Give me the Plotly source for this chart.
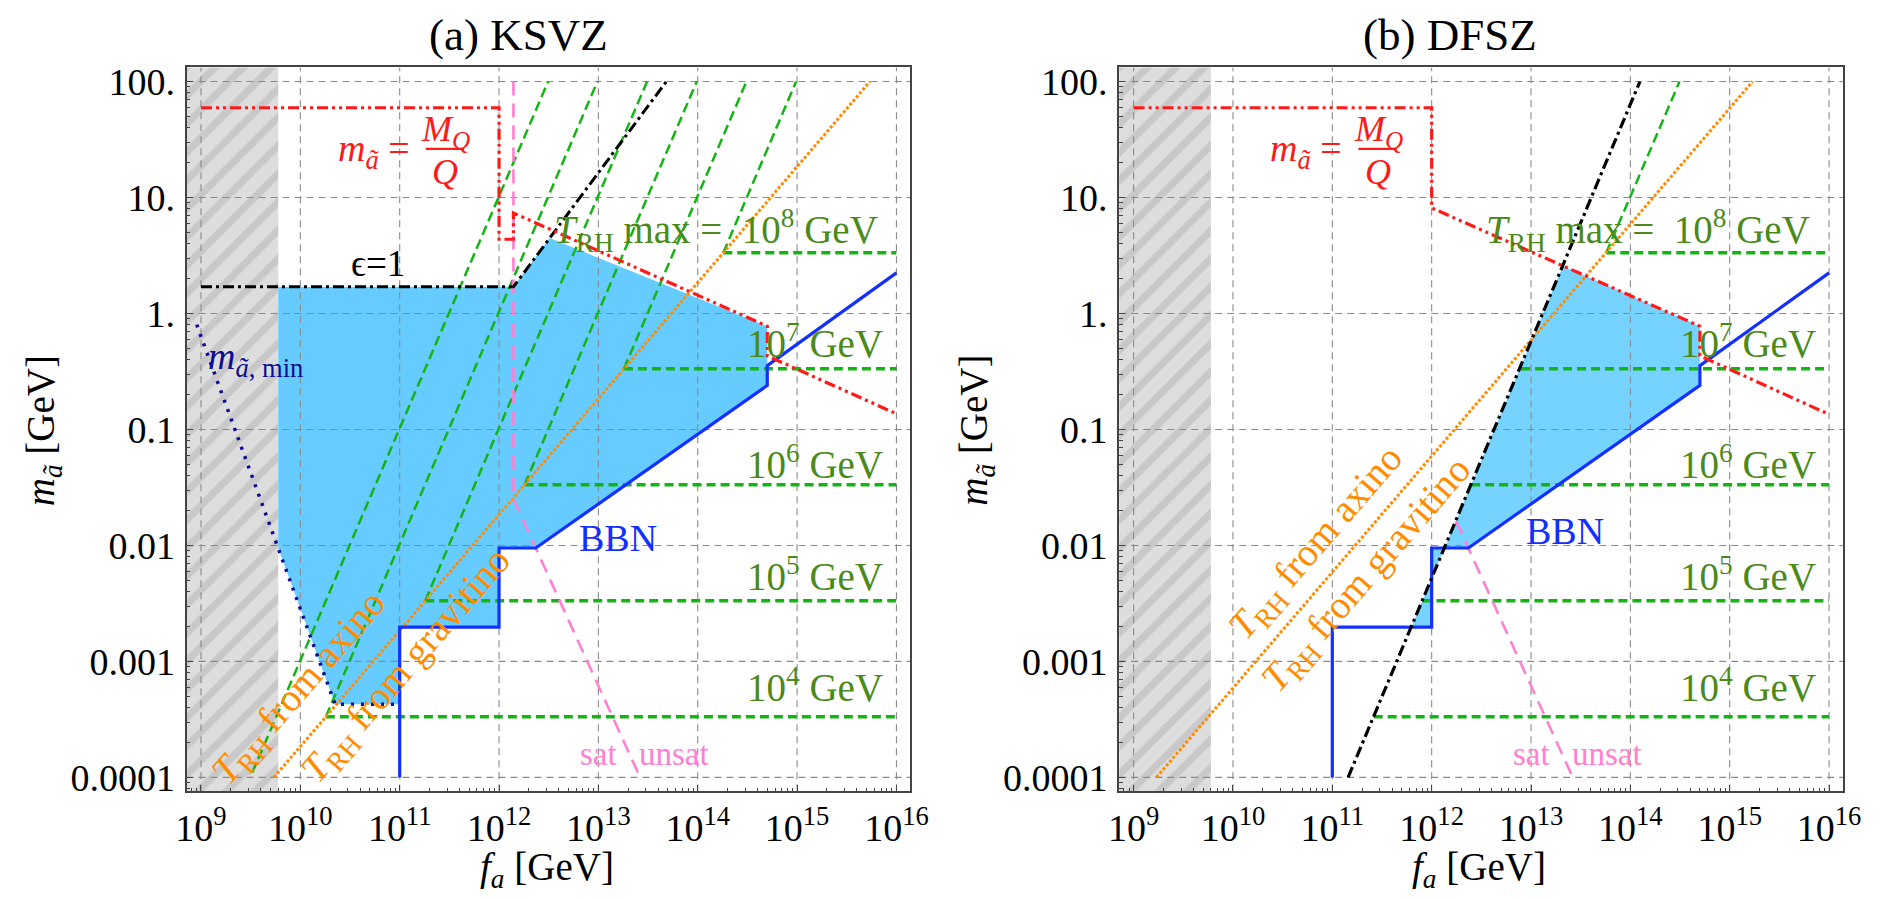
import plotly.graph_objects as go

W, H = 1898, 899
SERIF = "Liberation Serif, Times New Roman, serif"

# ---------------- panel geometry (pixels) ----------------
PANEL_LEFT = [178.3, 1125.4]
PANEL_W = 735.0
PANEL_TOP = 62.3
PANEL_H = 734.4
X_RANGE = [8.855, 16.14]      # log10 f_a
Y_RANGE = [-4.119, 2.122]     # log10 m

X_TICK_EXP = [9, 10, 11, 12, 13, 14, 15, 16]
Y_TICK_EXP = [-4, -3, -2, -1, 0, 1, 2]
Y_TICK_TEXT = ["0.0001", "0.001", "0.01", "0.1", "1.", "10.", "100."]

# ---------------- data (log10 f_a [GeV], log10 m [GeV]) ----------------
EXCLUDED_FA_MAX = 9.778                     # hatched region f_a < 6e9 GeV

# (a) KSVZ
KSVZ_REGION_FA = [9.778, 12.145, 12.51, 14.70, 14.70, 12.37, 12.0, 12.0, 11.0, 11.0, 10.35, 9.778]
KSVZ_REGION_M = [0.230, 0.230, 0.650, -0.110, -0.620, -2.022, -2.022, -2.705, -2.705, -3.370, -3.370, -2.025]

KSVZ_MQ_FA = [9.0, 12.0, 12.0, 12.145, 12.145, 14.70, 14.70, 16.0]
KSVZ_MQ_M = [1.774, 1.774, 0.640, 0.640, 0.867, -0.110, -0.365, -0.865]

KSVZ_EPS_FA = [9.0, 12.145, 13.684]
KSVZ_EPS_M = [0.230, 0.230, 2.0]

KSVZ_MMIN_FA = [8.957, 10.35, 11.0]
KSVZ_MMIN_M = [-0.096, -3.370, -3.370]

KSVZ_SAT_FA = [12.145, 12.145, 13.42]
KSVZ_SAT_M = [2.0, -1.60, -4.0]

KSVZ_TRH_ORANGE_FA = [9.734, 15.734]
KSVZ_TRH_ORANGE_M = [-4.0, 2.0]

# T_RH max contours: slope-2 branch (start -> top) and flat branch
KSVZ_TRH_DIAG_START_FA = [9.516, 10.257, 11.257, 12.257, 13.257, 14.257]
KSVZ_TRH_DIAG_START_M = [-3.960, -3.477, -2.477, -1.477, -0.477, 0.523]
KSVZ_TRH_DIAG_END_FA = [12.494, 12.990, 13.490, 13.990, 14.490, 14.990]
KSVZ_TRH_FLAT_START_FA = [10.257, 11.257, 12.257, 13.257, 14.257]
TRH_FLAT_M = [-3.477, -2.477, -1.477, -0.477, 0.523]
TRH_FLAT_END_FA = 16.0

# (b) DFSZ
DFSZ_REGION_FA = [11.795, 12.0, 12.0, 12.37, 14.70, 14.70, 13.321]
DFSZ_REGION_M = [-2.705, -2.705, -2.022, -2.022, -0.620, -0.110, 0.410]

DFSZ_MQ_FA = [9.0, 12.0, 12.0, 14.70, 14.70, 16.0]
DFSZ_MQ_M = [1.774, 1.774, 0.910, -0.110, -0.365, -0.870]

DFSZ_BLACK_FA = [11.159, 14.096]
DFSZ_BLACK_M = [-4.0, 2.0]

DFSZ_SAT_FA = [12.245, 13.42]
DFSZ_SAT_M = [-1.790, -4.0]

DFSZ_TRH_ORANGE_FA = [9.230, 15.230]
DFSZ_TRH_ORANGE_M = [-4.0, 2.0]

DFSZ_TRH_DIAG_START_FA = [13.757]
DFSZ_TRH_DIAG_START_M = [0.523]
DFSZ_TRH_DIAG_END_FA = [14.495]
DFSZ_TRH_FLAT_START_FA = [11.416, 11.907, 12.397, 12.900, 13.757]

# BBN bound (both models)
BBN_FA = [11.0, 11.0, 12.0, 12.0, 12.37, 14.70, 14.70, 16.0]
BBN_M = [-4.0, -2.705, -2.705, -2.022, -2.022, -0.620, -0.450, 0.350]

# ---------------- colours ----------------
C_RED = "#ff1a1a"
C_GREEN_LINE = "#14b414"
C_GREEN_TEXT = "#4b8a1a"
C_ORANGE = "#ff8c00"
C_PINK = "#ff7fd0"
C_BLUE = "#1430ff"
C_NAVY = "#0c0c96"
C_FILL = ["#66ccff", "#76d3ff"]
C_GRID = "#8a8a8a"


def p(vals):
    return [10 ** v for v in vals]


def segs(x0s, y0s, x1s, y1s):
    xs, ys = [], []
    for a, b, c, d in zip(x0s, y0s, x1s, y1s):
        xs += [10 ** a, 10 ** c, None]
        ys += [10 ** b, 10 ** d, None]
    return xs, ys


fig = go.Figure()


def add(i, x, y, **kw):
    xa = "x" if i == 0 else "x2"
    ya = "y" if i == 0 else "y2"
    fig.add_trace(go.Scatter(x=x, y=y, xaxis=xa, yaxis=ya, showlegend=False,
                             hoverinfo="skip", **kw))


def line(i, x, y, color, width, dash="solid"):
    add(i, x, y, mode="lines", line=dict(color=color, width=width, dash=dash))


panels = [
    dict(region=(KSVZ_REGION_FA, KSVZ_REGION_M), mq=(KSVZ_MQ_FA, KSVZ_MQ_M),
         orange=(KSVZ_TRH_ORANGE_FA, KSVZ_TRH_ORANGE_M),
         diag=(KSVZ_TRH_DIAG_START_FA, KSVZ_TRH_DIAG_START_M, KSVZ_TRH_DIAG_END_FA),
         flat=KSVZ_TRH_FLAT_START_FA, sat=(KSVZ_SAT_FA, KSVZ_SAT_M)),
    dict(region=(DFSZ_REGION_FA, DFSZ_REGION_M), mq=(DFSZ_MQ_FA, DFSZ_MQ_M),
         orange=(DFSZ_TRH_ORANGE_FA, DFSZ_TRH_ORANGE_M),
         diag=(DFSZ_TRH_DIAG_START_FA, DFSZ_TRH_DIAG_START_M, DFSZ_TRH_DIAG_END_FA),
         flat=DFSZ_TRH_FLAT_START_FA, sat=(DFSZ_SAT_FA, DFSZ_SAT_M)),
]

for i, pn in enumerate(panels):
    # excluded small-f_a band, hatched
    add(i, p([8.5, EXCLUDED_FA_MAX, EXCLUDED_FA_MAX, 8.5]), p([-5, -5, 3, 3]),
        mode="lines", fill="toself", fillcolor="#dcdcdc", line=dict(width=0),
        fillpattern=dict(shape="/", bgcolor="#dddddd", fgcolor="#b3b3b3",
                         size=20, solidity=0.36))
    # allowed region
    rx, ry = pn["region"]
    add(i, p(rx), p(ry), mode="lines", fill="toself", fillcolor=C_FILL[i],
        line=dict(width=0))
    # dashed grid drawn over the fills
    gx, gy = [], []
    for e in X_TICK_EXP:
        gx += [10 ** e, 10 ** e, None]
        gy += [10 ** Y_RANGE[0], 10 ** Y_RANGE[1], None]
    for e in Y_TICK_EXP:
        gx += [10 ** X_RANGE[0], 10 ** X_RANGE[1], None]
        gy += [10 ** e, 10 ** e, None]
    line(i, gx, gy, C_GRID, 1.1, "7px,5px")
    # T_RH max contours
    ds, dm, de = pn["diag"]
    dx, dy = segs(ds, dm, de, [2.0] * len(de))
    line(i, dx, dy, C_GREEN_LINE, 2.5, "10px,5px")
    fx, fy = segs(pn["flat"], TRH_FLAT_M, [TRH_FLAT_END_FA] * 5, TRH_FLAT_M)
    line(i, fx, fy, C_GREEN_LINE, 3.5, "9px,5px")
    # T_RH from axino / gravitino boundary
    ox, oy = pn["orange"]
    line(i, p(ox), p(oy), C_ORANGE, 3, "3px,2px")
    # sat / unsat boundary
    sx, sy = pn["sat"]
    line(i, p(sx), p(sy), C_PINK, 2.6, "14px,8px")
    # BBN
    line(i, p(BBN_FA), p(BBN_M), C_BLUE, 3.2)

# panel specific curves
line(0, p(KSVZ_MMIN_FA), p(KSVZ_MMIN_M), C_NAVY, 3.5, "3px,7px")
line(0, p(KSVZ_EPS_FA), p(KSVZ_EPS_M), "black", 3, "11px,4px,3px,4px")
line(1, p(DFSZ_BLACK_FA), p(DFSZ_BLACK_M), "black", 3.2, "11px,4px,3px,4px")
for i, pn in enumerate(panels):
    mx, my = pn["mq"]
    line(i, p(mx), p(my), C_RED, 3.2, "11px,4px,3px,4px,3px,4px")

# fraction bar of M_Q / Q
for i in range(2):
    line(i, p([11.263, 11.65]), p([1.42, 1.42]), C_RED, 2.2)

# ---------------- axes ----------------
minor_x = [k * 10.0 ** e for e in range(8, 17) for k in range(2, 10)]
minor_y = [k * 10.0 ** e for e in range(-5, 3) for k in range(2, 10)]

layout = dict(width=W, height=H, autosize=False, margin=dict(l=0, r=0, t=0, b=0),
              paper_bgcolor="white", plot_bgcolor="white", showlegend=False,
              font=dict(family=SERIF, color="black", size=38))

ydom = [1 - (PANEL_TOP + PANEL_H) / H, 1 - PANEL_TOP / H]
for i in range(2):
    sfx = "" if i == 0 else "2"
    layout["xaxis" + sfx] = dict(
        type="log", range=X_RANGE, domain=[PANEL_LEFT[i] / W, (PANEL_LEFT[i] + PANEL_W) / W],
        anchor="y" + sfx, tickvals=[10 ** e for e in X_TICK_EXP],
        ticktext=["10<sup>%d</sup>" % e for e in X_TICK_EXP],
        ticks="inside", ticklen=6, tickwidth=1.3, tickcolor="#444",
        showgrid=False, zeroline=False, showline=True, linecolor="#444", linewidth=2,
        mirror=True, tickfont=dict(size=38, family=SERIF, color="black"),
        ticklabelstandoff=2,
        minor=dict(tickvals=minor_x, ticks="inside", ticklen=3.5, tickcolor="#444",
                   showgrid=False))
    layout["yaxis" + sfx] = dict(
        type="log", range=Y_RANGE, domain=ydom, anchor="x" + sfx,
        tickvals=[10.0 ** e for e in Y_TICK_EXP], ticktext=Y_TICK_TEXT,
        ticks="inside", ticklen=6, tickwidth=1.3, tickcolor="#444",
        showgrid=False, zeroline=False, showline=True, linecolor="#444", linewidth=2,
        mirror=True, tickfont=dict(size=38, family=SERIF, color="black"),
        ticklabelstandoff=2,
        minor=dict(tickvals=minor_y, ticks="inside", ticklen=3.5, tickcolor="#444",
                   showgrid=False))

fig.update_layout(**layout)

# ---------------- text ----------------
ann = []


def txt(i, lf, lm, text, size, color, angle=0, xanchor="center"):
    ann.append(dict(xref="x" if i == 0 else "x2", yref="y" if i == 0 else "y2",
                    x=lf, y=lm, text=text, showarrow=False, textangle=angle,
                    xanchor=xanchor, yanchor="middle",
                    font=dict(family=SERIF, size=size, color=color)))


def ptxt(px, py, text, size, angle=0):
    ann.append(dict(xref="paper", yref="paper", x=px / W, y=1 - py / H, text=text,
                    showarrow=False, textangle=angle, xanchor="center", yanchor="middle",
                    font=dict(family=SERIF, size=size, color="black")))


TRH = "<i>T</i><sub>RH</sub>"
for i in range(2):
    txt(i, 11.12, 1.40, "<i>m</i><sub><i>ã</i></sub> =", 38, C_RED, xanchor="right")
    txt(i, 11.46, 1.57, "<i>M</i><sub><i>Q</i></sub>", 36, C_RED)
    txt(i, 11.46, 1.22, "<i>Q</i>", 36, C_RED)
    txt(i, 14.18, 0.714, TRH + " max =  10<sup>8</sup> GeV", 39, C_GREEN_TEXT)
    for lm, k in zip([-0.24, -1.28, -2.25, -3.205], [7, 6, 5, 4]):
        txt(i, 15.18, lm, "10<sup>%d</sup> GeV" % k, 39, C_GREEN_TEXT)
    txt(i, 13.21, -3.80, "sat", 33, C_PINK, xanchor="right")
    txt(i, 13.39, -3.80, "unsat", 33, C_PINK, xanchor="left")

txt(0, 10.777, 0.432, "ϵ=1", 37, "black")
txt(0, 9.55, -0.39, "<i>m</i><sub><i>ã</i>, min</sub>", 38, C_NAVY)
txt(0, 13.195, -1.94, "BBN", 38, C_BLUE)
txt(1, 13.346, -1.874, "BBN", 38, C_BLUE)
txt(0, 9.997, -3.23, TRH + " from axino", 39, C_ORANGE, angle=-49)
txt(0, 11.071, -3.04, TRH + " from gravitino", 39, C_ORANGE, angle=-49)
txt(1, 10.845, -1.98, TRH + " from axino", 39, C_ORANGE, angle=-49)
txt(1, 11.357, -2.263, TRH + " from gravitino", 39, C_ORANGE, angle=-49)

ptxt(515, 29, "(a) KSVZ", 45)
ptxt(1461, 29, "(b) DFSZ", 45)
ptxt(544, 876, "<i>f</i><sub><i>a</i></sub> [GeV]", 39)
ptxt(1491, 876, "<i>f</i><sub><i>a</i></sub> [GeV]", 39)
ptxt(33, 431, "<i>m</i><sub><i>ã</i></sub> [GeV]", 39, angle=-90)
ptxt(981, 431, "<i>m</i><sub><i>ã</i></sub> [GeV]", 39, angle=-90)

fig.update_layout(annotations=ann)
fig.write_html("out.html")
